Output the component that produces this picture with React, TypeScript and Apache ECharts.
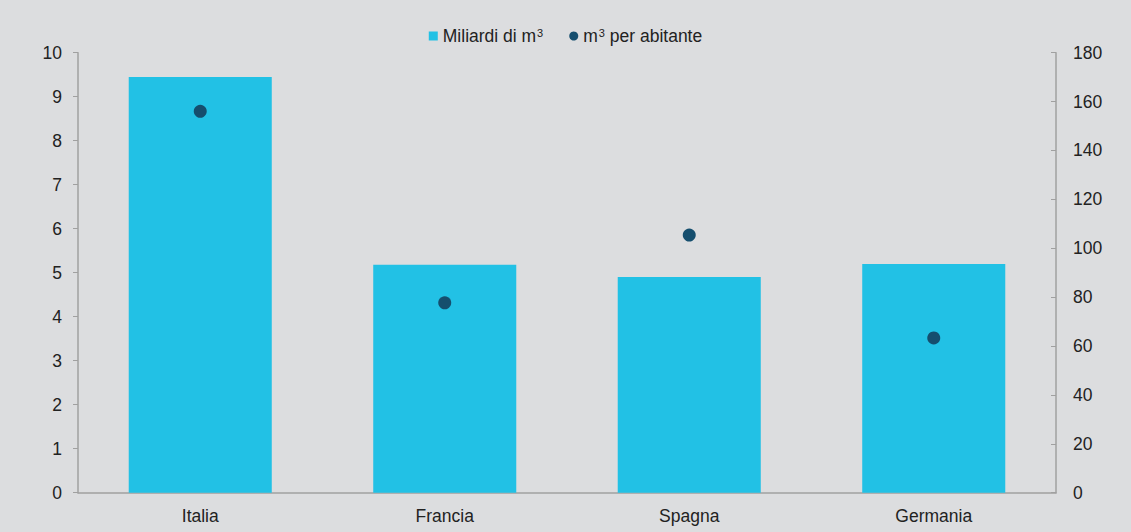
import React, { useEffect, useRef } from "react";
import * as echarts from "echarts";

const categories = ["Italia", "Francia", "Spagna", "Germania"];
const miliardi = [9.45, 5.18, 4.9, 5.2];
const perAbitante = [156, 77.7, 105.4, 63.3];
const leftTicks = { min: 0, max: 10, interval: 1 };
const rightTicks = { min: 0, max: 180, interval: 20 };
const legendNames = ["Miliardi di m³", "m³ per abitante"];

export default function App() {
  const ref = useRef<HTMLDivElement>(null);
  useEffect(() => {
    document.body.style.margin = "0";
    document.body.style.background = "#dcdddf";
    const chart = echarts.init(ref.current!, null, { renderer: "svg" });
    const font = "Liberation Sans, Arial, sans-serif";
    const fs = 17.5;
    chart.setOption({
      animation: false,
      backgroundColor: "#dcdddf",
      textStyle: { fontFamily: font },
      legend: {
        top: 22,
        left: "center",
        itemWidth: 9,
        itemHeight: 9,
        itemGap: 26,
        formatter: (name: string) =>
          name === legendNames[0]
            ? "{t|Miliardi di m}{s|3}"
            : "{t|m}{s|3}{t| per abitante}",
        textStyle: {
          color: "#222",
          fontFamily: font,
          fontSize: fs,
          rich: {
            t: { fontSize: fs, color: "#222", fontFamily: font },
            s: { fontSize: 11, color: "#222", fontFamily: font, verticalAlign: "top", padding: [0, 0, 6, 1] },
          },
        },
        data: [
          { name: legendNames[0], icon: "rect" },
          { name: legendNames[1], icon: "circle" },
        ],
      },
      grid: { left: 78, right: 75, top: 52.7, bottom: 39.3 },
      xAxis: {
        type: "category",
        data: categories,
        axisLine: { lineStyle: { color: "#a0a0a0", width: 1.5 } },
        axisTick: { show: false },
        axisLabel: { fontSize: fs, color: "#222", margin: 14, fontFamily: font },
      },
      yAxis: [
        {
          type: "value",
          ...leftTicks,
          position: "left",
          splitLine: { show: false },
          axisLine: { show: true, lineStyle: { color: "#a0a0a0", width: 1.5 } },
          axisTick: { show: true, length: 5, lineStyle: { color: "#a0a0a0" } },
          axisLabel: { fontSize: fs, color: "#222", margin: 16, fontFamily: font },
        },
        {
          type: "value",
          ...rightTicks,
          position: "right",
          splitLine: { show: false },
          axisLine: { show: true, lineStyle: { color: "#a0a0a0", width: 1.5 } },
          axisTick: { show: true, inside: true, length: 5, lineStyle: { color: "#a0a0a0" } },
          axisLabel: { fontSize: fs, color: "#222", margin: 17, fontFamily: font },
        },
      ],
      series: [
        {
          name: legendNames[0],
          type: "bar",
          data: miliardi,
          barWidth: "58.5%",
          itemStyle: { color: "#22c1e5" },
          yAxisIndex: 0,
        },
        {
          name: legendNames[1],
          type: "scatter",
          data: perAbitante,
          yAxisIndex: 1,
          symbol: "circle",
          symbolSize: 13,
          itemStyle: { color: "#154e6e", opacity: 1 },
        },
      ],
    });
    return () => chart.dispose();
  }, []);
  return <div ref={ref} style={{ width: 1131, height: 532 }} />;
}
